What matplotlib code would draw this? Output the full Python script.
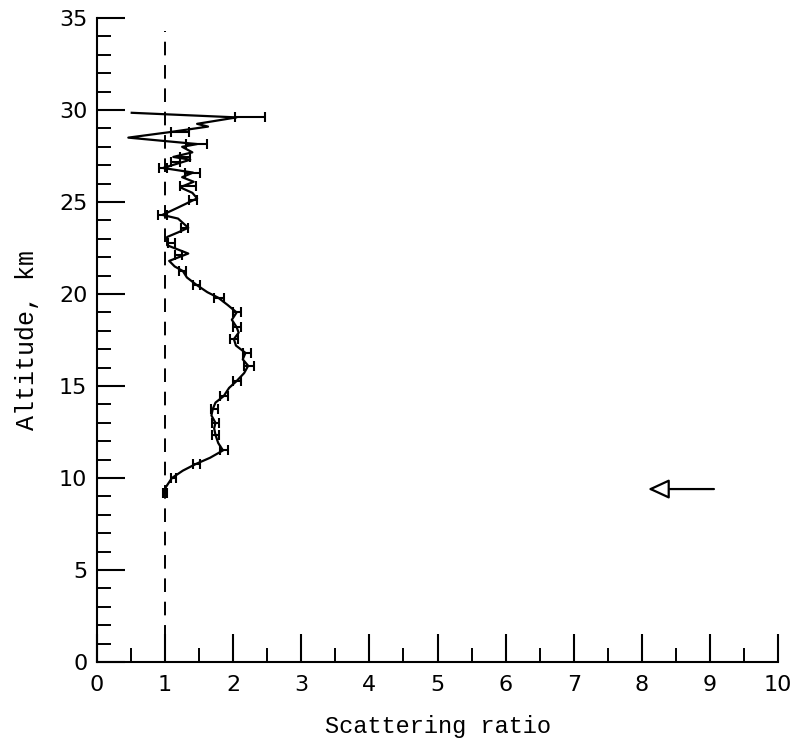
import matplotlib.pyplot as plt
from matplotlib.ticker import MultipleLocator

# lidar scattering ratio profile
altitude = [9.2, 9.5, 10.0, 10.4, 10.76, 11.1, 11.5, 11.9, 12.34, 12.7, 13.0,
            13.4, 13.75, 14.1, 14.45, 14.9, 15.27, 15.7, 16.1, 16.45, 16.8,
            17.2, 17.55, 17.9, 18.2, 18.6, 19.0, 19.4, 19.8, 20.1, 20.5, 20.9,
            21.25, 21.5, 21.8, 22.2, 22.65, 23.1, 23.35, 23.6, 24.1, 24.3, 24.7,
            25.2, 25.5, 25.8, 26.1, 26.35, 26.6, 26.85, 27.3, 27.45, 27.7,
            28.0, 28.15, 28.5, 28.8, 29.1, 29.25, 29.6, 29.85]
ratio = [1.00, 1.01, 1.10, 1.26, 1.45, 1.66, 1.85, 1.78, 1.74, 1.72, 1.74,
         1.68, 1.70, 1.74, 1.86, 1.94, 2.05, 2.16, 2.22, 2.14, 2.18,
         2.04, 2.01, 2.08, 2.05, 1.98, 2.05, 1.92, 1.78, 1.62, 1.46, 1.32,
         1.26, 1.14, 1.06, 1.34, 1.03, 1.03, 1.19, 1.34, 1.19, 0.96, 1.19,
         1.47, 1.40, 1.22, 1.42, 1.25, 1.41, 0.97, 1.37, 1.12, 1.40,
         1.25, 1.47, 0.46, 1.07, 1.63, 1.47, 2.05, 0.51]

# points carrying error bars
bar_alt = [9.2, 10.0, 10.76, 11.53, 12.34, 13.0, 13.75, 14.45, 15.27, 16.1,
           16.8, 17.55, 18.2, 19.0, 19.8, 20.5, 21.25, 22.1, 22.8, 23.6,
           24.3, 25.1, 25.85, 26.6, 26.85, 27.2, 27.45, 28.15, 28.8, 29.6]
bar_ratio = [1.00, 1.12, 1.46, 1.86, 1.74, 1.74, 1.73, 1.87, 2.06, 2.23,
             2.20, 2.01, 2.06, 2.06, 1.79, 1.46, 1.26, 1.20, 1.09, 1.29,
             0.96, 1.41, 1.34, 1.40, 0.97, 1.15, 1.29, 1.46, 1.22, 2.25]
bar_err = [0.03, 0.04, 0.05, 0.06, 0.05, 0.05, 0.05, 0.06, 0.06, 0.07,
           0.06, 0.06, 0.06, 0.06, 0.07, 0.05, 0.05, 0.05, 0.05, 0.05,
           0.07, 0.06, 0.12, 0.11, 0.06, 0.07, 0.07, 0.16, 0.13, 0.22]

arrow_alt = 9.4

fig = plt.figure(figsize=(8.03, 7.45), dpi=100)
ax = fig.add_axes([0.1208, 0.1114, 0.8481, 0.8644])

ax.plot([1, 1], [0, 34.3], color='black', lw=1.4, ls=(0, (7, 5)))
ax.plot(ratio, altitude, color='black', lw=1.6)
ax.errorbar(bar_ratio, bar_alt, xerr=bar_err, fmt='none', ecolor='black',
            elinewidth=1.5, capsize=3.5, capthick=1.5)

ax.annotate('', xy=(8.05, arrow_alt), xytext=(9.1, arrow_alt),
            arrowprops=dict(arrowstyle='-|>,head_length=1.3,head_width=0.6',
                            fc='white', ec='black', lw=1.6))

ax.set_xlim(0, 10)
ax.set_ylim(0, 35)
ax.xaxis.set_major_locator(MultipleLocator(1))
ax.xaxis.set_minor_locator(MultipleLocator(0.5))
ax.yaxis.set_major_locator(MultipleLocator(5))
ax.yaxis.set_minor_locator(MultipleLocator(1))
ax.spines['top'].set_visible(False)
ax.spines['right'].set_visible(False)
for s in ['left', 'bottom']:
    ax.spines[s].set_linewidth(1.5)
ax.tick_params(which='major', direction='in', length=20, width=1.5)
ax.tick_params(which='minor', direction='in', length=10, width=1.4)
ax.tick_params(axis='x', which='major', pad=9)
ax.tick_params(axis='y', which='major', pad=7)
for lab in ax.get_xticklabels() + ax.get_yticklabels():
    lab.set_family('DejaVu Sans')
    lab.set_fontsize(16)

ax.set_xlabel('Scattering ratio', family='Liberation Mono', fontsize=17,
              labelpad=15)
ax.set_ylabel('Altitude, km', family='Liberation Mono', fontsize=18,
              labelpad=14)

fig.savefig('out.png', dpi=100)
